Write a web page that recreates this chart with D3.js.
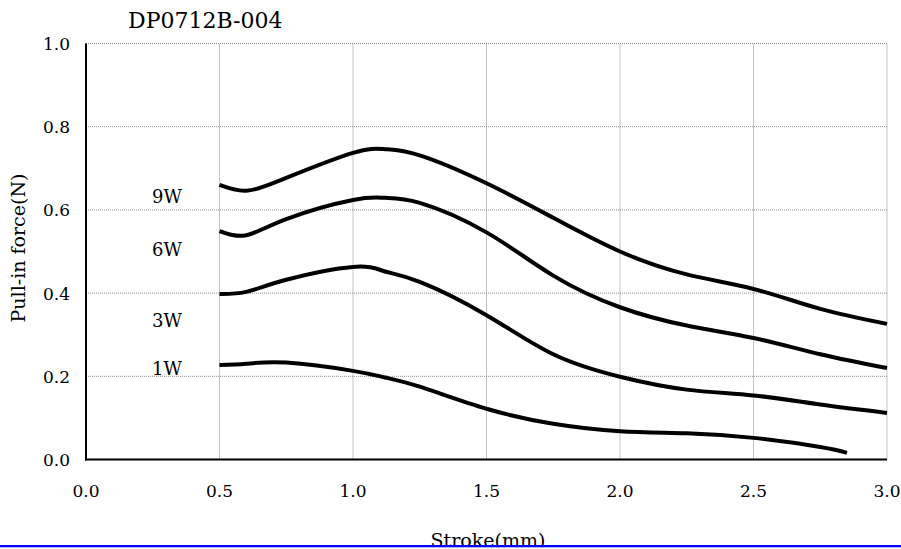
<!DOCTYPE html>
<html>
<head>
<meta charset="utf-8">
<script src="https://cdn.jsdelivr.net/npm/d3@7"></script>
<style>
  body { margin: 0; background: #fff; }
  svg text { font-family: "DejaVu Serif", "Liberation Serif", serif; fill: #000; }
</style>
</head>
<body>
<svg id="chart" width="901" height="549"></svg>
<script>
// values
let strokes = [0.5, 0.6, 0.75, 1.0, 1.12, 1.25, 1.5, 1.75, 2.0, 2.25, 2.5, 2.75, 3.0];
let strokes1W = [0.5, 0.6, 0.75, 1.0, 1.12, 1.25, 1.5, 1.75, 2.0, 2.25, 2.5, 2.75, 2.85];
let force9W = [0.660, 0.646, 0.677, 0.737, 0.746, 0.731, 0.664, 0.581, 0.500, 0.445, 0.410, 0.362, 0.326];
let force6W = [0.549, 0.539, 0.578, 0.624, 0.629, 0.617, 0.546, 0.442, 0.366, 0.322, 0.292, 0.253, 0.220];
let force3W = [0.398, 0.403, 0.432, 0.463, 0.452, 0.427, 0.347, 0.253, 0.199, 0.168, 0.154, 0.132, 0.112];
let force1W = [0.227, 0.230, 0.233, 0.213, 0.197, 0.175, 0.122, 0.086, 0.068, 0.063, 0.052, 0.030, 0.016];
let seriesNames = ["9W", "6W", "3W", "1W"];
let xTicks = [0, 0.5, 1.0, 1.5, 2.0, 2.5, 3.0];
let yTicks = [0, 0.2, 0.4, 0.6, 0.8, 1.0];

let svg = d3.select("svg#chart");
let x = d3.scaleLinear().domain([0, 3]).range([86, 887]);
let y = d3.scaleLinear().domain([0, 1]).range([459.5, 43.5]);

// grid
svg.append("g").selectAll("line").data(xTicks.slice(1))
  .enter().append("line")
    .attr("x1", function(d) { return x(d); }).attr("x2", function(d) { return x(d); })
    .attr("y1", y(0)).attr("y2", y(1))
    .attr("stroke", "#8a8a8a").attr("stroke-width", 1).attr("stroke-dasharray", "1,1");
svg.append("g").selectAll("line").data(yTicks.slice(1))
  .enter().append("line")
    .attr("x1", x(0)).attr("x2", x(3))
    .attr("y1", function(d) { return y(d); }).attr("y2", function(d) { return y(d); })
    .attr("stroke", "#8a8a8a").attr("stroke-width", 1).attr("stroke-dasharray", "1,1");

// axes lines
svg.append("line").attr("x1", x(0)).attr("x2", x(0)).attr("y1", y(1)).attr("y2", y(0) + 1)
  .attr("stroke", "#000").attr("stroke-width", 2);
svg.append("line").attr("x1", x(0) - 1).attr("x2", x(3)).attr("y1", y(0)).attr("y2", y(0))
  .attr("stroke", "#000").attr("stroke-width", 2);

// tick labels
svg.append("g").selectAll("text").data(xTicks)
  .enter().append("text")
    .attr("x", function(d) { return x(d); })
    .attr("y", 497)
    .attr("text-anchor", "middle")
    .style("font-size", "17px")
    .text(function(d) { return d3.format(".1f")(d); });
svg.append("g").selectAll("text").data(yTicks)
  .enter().append("text")
    .attr("x", 70)
    .attr("y", function(d) { return y(d) + 6.5; })
    .attr("text-anchor", "end")
    .style("font-size", "17px")
    .text(function(d) { return d3.format(".1f")(d); });

// curves
let line = d3.line()
  .x(function(d) { return x(d[0]); })
  .y(function(d) { return y(d[1]); })
  .curve(d3.curveNatural);

let series = [
  d3.zip(strokes, force9W),
  d3.zip(strokes, force6W),
  d3.zip(strokes, force3W),
  d3.zip(strokes1W, force1W)
];

svg.append("g").selectAll("path").data(series)
  .enter().append("path")
    .attr("d", line)
    .attr("fill", "none")
    .attr("stroke", "#000")
    .attr("stroke-width", 4);

// series labels
let labelY = [203, 256, 327, 375];
svg.append("g").selectAll("text").data(seriesNames)
  .enter().append("text")
    .attr("x", 152)
    .attr("y", function(d, i) { return labelY[i]; })
    .style("font-size", "18px")
    .text(function(d) { return d; });

// titles
svg.append("text").attr("x", 128).attr("y", 28)
  .style("font-size", "22px").text("DP0712B-004");
svg.append("text")
  .attr("transform", "translate(25," + 248 + ") rotate(-90)")
  .attr("text-anchor", "middle")
  .style("font-size", "19px")
  .text("Pull-in force(N)");
svg.append("text").attr("x", 488).attr("y", 547)
  .attr("text-anchor", "middle")
  .style("font-size", "19px")
  .text("Stroke(mm)");

// bottom rule
svg.append("rect").attr("x", 0).attr("y", 547.3).attr("width", 901).attr("height", 2).attr("fill", "#fff");
svg.append("rect").attr("x", 0).attr("y", 545).attr("width", 901).attr("height", 2.3).attr("fill", "#0000ff");
</script>
</body>
</html>
